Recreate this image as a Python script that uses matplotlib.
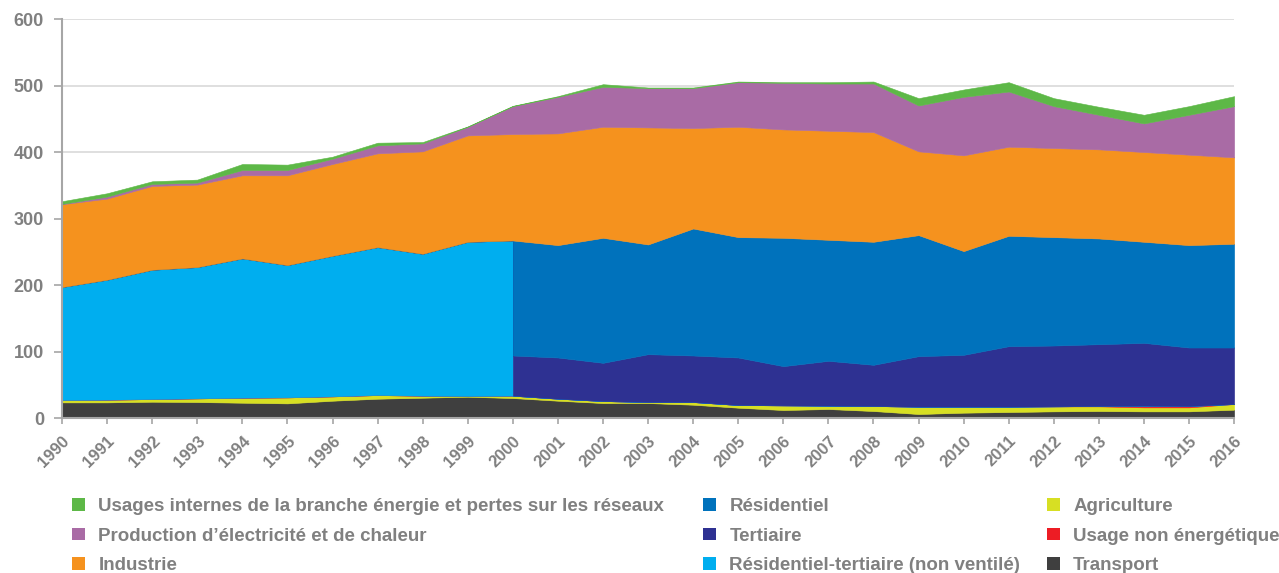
import matplotlib
matplotlib.use("Agg")
import matplotlib.pyplot as plt
from matplotlib.patches import Patch

plt.rcParams['font.family'] = ['Liberation Sans', 'DejaVu Sans']

years = list(range(1990, 2017))

# one value per year, 1990..2016
transport = [23.5, 23.5, 24.5, 24, 23, 22, 26, 29, 30.5, 32, 30, 26, 22.5, 22.5, 20, 15.5, 12, 13.5, 10.5, 6, 8, 9, 10, 10.5, 10, 10, 12.5]
agriculture = [3.5, 4, 4, 5.5, 7.5, 9, 6.5, 5.5, 3, 1, 3.5, 3, 3, 1.5, 4, 4, 7, 5, 7.5, 11, 9, 8, 7.5, 7, 6, 6, 8.5]
non_energetique = [0, 0, 0, 0, 0, 0, 0, 0, 0, 0, 0, 0, 0, 0, 0, 0, 0, 0, 0, 0, 0, 0, 0, 0.5, 2.5, 2, 0]
industrie = [124.5, 122, 126, 124, 125, 135, 138, 141, 154, 160, 160, 168, 167, 176, 151, 166, 163, 164, 165, 126, 144, 134, 134, 134, 135, 136, 130]
production = [0.5, 3, 3, 3, 8, 8, 8, 12, 12, 13, 42, 55, 60, 59, 60, 67, 70, 71, 73, 69, 88, 83, 63, 52, 43, 60, 77]
usages_internes = [4, 5, 4, 4.5, 9, 8, 3, 4, 2, 0.5, 0.5, 1, 4, 1, 1, 1, 1, 2, 3, 11, 11, 14, 12, 12, 13, 13, 15]

# 1990..2000 only (not split before 2000)
non_ventile = [170, 180.5, 194.5, 197.5, 209.5, 199, 211.5, 222.5, 213.5, 232, 233.5]
# 2000..2016 only
tertiaire = [60.5, 62, 57.5, 72, 70, 71.5, 59, 67.5, 62, 76, 78, 91, 91.5, 93, 94.5, 88, 85]
residentiel = [173, 169, 188, 165, 191, 181, 193, 182, 185, 182, 156, 166, 163, 159, 152, 154, 156]

labels = {
    'us': "Usages internes de la branche énergie et pertes sur les réseaux",
    'prod': "Production d’électricité et de chaleur",
    'ind': "Industrie",
    'res': "Résidentiel",
    'ter': "Tertiaire",
    'nv': "Résidentiel-tertiaire (non ventilé)",
    'agr': "Agriculture",
    'ne': "Usage non énergétique",
    'tr': "Transport",
}
colors = {
    'us': '#5db847', 'prod': '#a96ba5', 'ind': '#f5921e',
    'res': '#0072bc', 'ter': '#2e3192', 'nv': '#00aeef',
    'agr': '#d7df23', 'ne': '#ed1c24', 'tr': '#3f3f3f',
}

# the split happens at 2000: repeat 2000 so the edge is vertical
k = years.index(2000)
x = years[:k + 1] + years[k:]
dup = lambda s: s[:k + 1] + s[k:]
n_after = len(years) - k

series = {
    'tr': dup(transport),
    'agr': dup(agriculture),
    'ne': dup(non_energetique),
    'nv': non_ventile + [0] * n_after,
    'ter': [0] * (k + 1) + tertiaire,
    'res': [0] * (k + 1) + residentiel,
    'ind': dup(industrie),
    'prod': dup(production),
    'us': dup(usages_internes),
}
order = ['tr', 'agr', 'ne', 'nv', 'ter', 'res', 'ind', 'prod', 'us']

grey = '#808080'
fig = plt.figure(figsize=(12.79, 5.73), dpi=100)
ax = fig.add_axes([0.0485, 0.2705, 0.9164, 0.6963])

polys = ax.stackplot(x, [series[s] for s in order], colors=[colors[s] for s in order], linewidth=0)
for p, s in zip(polys, order):
    p.set_edgecolor(colors[s])
    p.set_linewidth(0.4)

ax.set_xlim(1990, 2016)
ax.set_ylim(0, 600)
ax.set_yticks(range(0, 601, 100))
ax.set_xticks(years)
ax.set_xticklabels([str(y) for y in years], rotation=45, ha='right', va='top',
                   rotation_mode='anchor', fontsize=12, fontweight='bold', color=grey)
ax.tick_params(axis='y', labelsize=13, labelcolor=grey, length=6, color='#a6a6a6', width=1.2, pad=7)
for t in ax.get_yticklabels():
    t.set_fontweight('bold')
ax.tick_params(axis='x', length=4, color='#a6a6a6', width=1.2, pad=7)
ax.grid(axis='y', color='#d9d9d9', linewidth=1.2)
ax.set_axisbelow(True)
for s in ['top', 'right']:
    ax.spines[s].set_visible(False)
for s in ['left', 'bottom']:
    ax.spines[s].set_color('#a6a6a6')
    ax.spines[s].set_linewidth(1.5)

# three legend columns placed like the original
columns = [(['us', 'prod', 'ind'], 0.0563), (['res', 'ter', 'nv'], 0.5497), (['agr', 'ne', 'tr'], 0.8186)]
for keys, xpos in columns:
    handles = [Patch(facecolor=colors[s], edgecolor='none') for s in keys]
    fig.legend(handles, [labels[s] for s in keys], ncol=1, loc='upper left',
               bbox_to_anchor=(xpos, 0.1309), frameon=False,
               prop={'size': 13.5, 'weight': 'bold'}, labelcolor=grey,
               handlelength=0.7, handleheight=0.65, handletextpad=0.7,
               labelspacing=0.67, borderaxespad=0, borderpad=0)

fig.savefig('out.png', dpi=100)
